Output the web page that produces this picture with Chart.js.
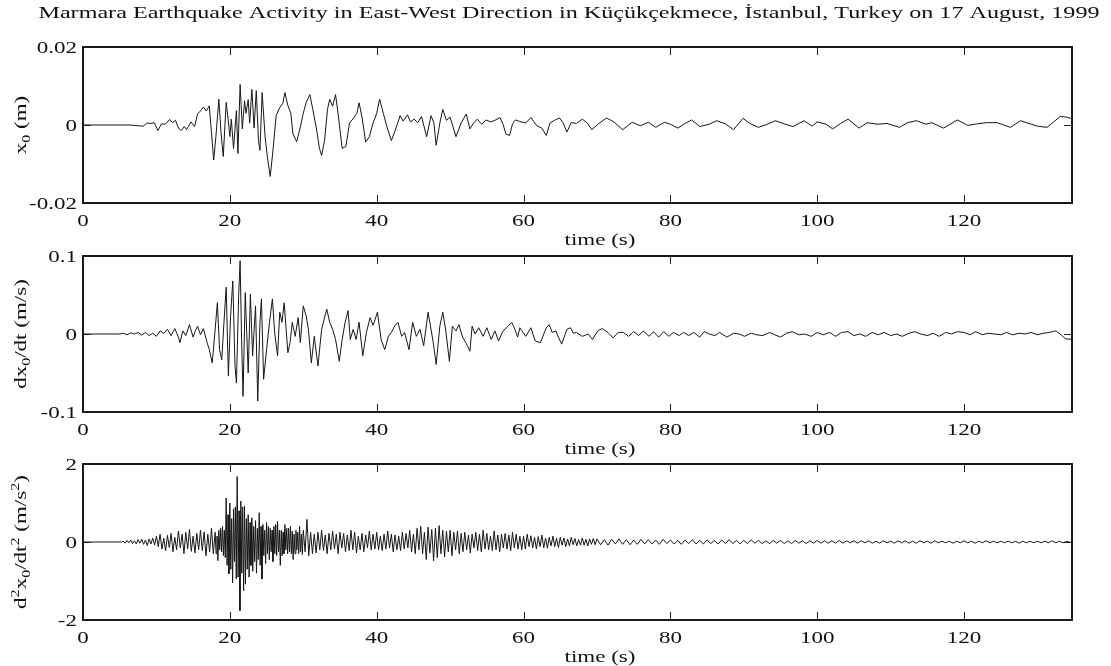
<!DOCTYPE html>
<html><head><meta charset="utf-8">
<script src="https://cdn.jsdelivr.net/npm/chart.js@4.4.1/dist/chart.umd.min.js"></script>
<style>
html,body{margin:0;padding:0;background:#fff;}
body{width:1111px;height:666px;position:relative;overflow:hidden;}
canvas{position:absolute;left:0;}
#fl{position:absolute;left:-999px;top:0;font-family:"Liberation Serif";font-size:20px;}
</style></head><body>
<div id="fl">time 0.02</div>
<canvas id="c1" width="1111" height="250" style="top:0;width:1111px;height:250px"></canvas>
<canvas id="c2" width="1111" height="208" style="top:250px;width:1111px;height:208px"></canvas>
<canvas id="c3" width="1111" height="208" style="top:458px;width:1111px;height:208px"></canvas>
<script>
const titleText = 'Marmara Earthquake Activity in East-West Direction in Küçükçekmece, İstanbul, Turkey on 17 August, 1999';
const xLabel = 'time (s)';
const xTicks = [0,20,40,60,80,100,120];
const xTickLabels = ['0','20','40','60','80','100','120'];
const dispTicks = [-0.02,0,0.02];
const dispTickLabels = ['-0.02','0','0.02'];
const velTicks = [-0.1,0,0.1];
const velTickLabels = ['-0.1','0','0.1'];
const accTicks = [-2,0,2];
const accTickLabels = ['-2','0','2'];

const dispTime = [0,6.5,7.5,8.2,8.7,9.2,9.7,10.2,10.7,11.2,
11.8,12.2,12.6,13.0,13.4,13.8,14.1,14.7,15.2,15.6,
16.0,16.4,16.8,17.2,17.5,17.8,18.1,18.5,18.8,19.1,
19.5,19.8,20.0,20.2,20.5,20.9,21.1,21.4,21.7,22.0,
22.2,22.5,22.7,23.0,23.3,23.6,23.9,24.1,24.4,24.8,
25.1,25.5,25.9,26.3,26.8,27.2,27.5,27.9,28.3,28.6,
29.1,29.6,30.0,30.4,30.9,31.3,31.8,32.2,32.5,32.9,
33.3,33.6,34.0,34.4,34.8,35.3,35.8,36.3,36.9,37.3,
37.6,38.0,38.5,39.0,39.5,40.0,40.4,40.9,41.4,42.0,
42.5,43.2,43.6,44.2,44.6,45.1,45.6,46.1,46.8,47.4,
47.8,48.1,48.6,49.0,49.5,50.0,50.8,51.5,52.2,52.7,
53.2,53.7,54.3,54.9,55.5,56.1,56.8,57.2,57.6,58.1,
58.5,58.9,59.5,60.3,61.0,61.8,62.5,63.1,63.6,64.2,
64.9,65.4,65.9,66.5,67.2,68.0,68.7,69.3,70.2,71.3,
72.3,73.5,74.8,75.9,77.0,78.0,79.2,80.0,81.0,82.0,
82.9,84.0,85.3,86.3,87.5,88.6,89.9,90.8,92.0,93.2,
94.3,95.5,96.7,98.2,99.3,100.0,101.2,102.1,103.2,104.2,
105.7,106.8,108.2,109.5,111.2,112.3,113.5,114.8,115.6,117.2,
119.1,120.5,121.8,123.1,124.5,126.3,127.7,129.0,130.0,131.3,
132.2,133.1,134.0,134.7];
const dispValue = [0,0,-0.0002,-0.0003,0.0005,0.0004,0.0006,-0.0014,0.0003,0.0002,
0.0014,0.0006,0.0012,-0.0008,-0.0014,-0.0004,-0.0012,0.0008,-0.0004,0.0028,
0.0036,0.0046,0.0036,0.0049,-0.002,-0.009,-0.003,0.0066,-0.002,-0.0081,
0.0058,0.001,-0.003,0.0015,-0.006,0.0037,-0.0073,0.0104,-0.001,0.0062,
0.003,0.0065,0.0005,0.0091,-0.0008,0.0088,-0.004,-0.0065,0.0083,-0.003,
-0.008,-0.0132,-0.006,0.0024,0.0045,0.0055,0.0083,0.005,0.003,-0.0023,
-0.0043,-0.0005,0.003,0.0058,0.0078,0.004,-0.001,-0.006,-0.0078,-0.004,
0.004,0.0066,0.0048,0.0078,0.002,-0.006,-0.0055,0.0005,0.0019,0.003,
0.0057,0.002,-0.0044,-0.003,0.0005,0.003,0.0066,0.003,-0.0005,-0.004,
-0.0015,0.0024,0.001,0.0026,0.0008,0.0015,0.0006,0.0022,-0.003,0.0024,
0.0005,-0.0052,0.0005,0.004,0.0012,0.002,-0.003,0.0005,0.0028,-0.001,
0.0005,0.0015,0.0002,0.0013,0.0008,0.0012,0.0019,0.0002,-0.0023,-0.0027,
0.0003,0.0013,0.0009,0.0005,0.0019,-0.0002,-0.0008,-0.0027,0.0005,0.0012,
0.0018,0.0005,-0.0018,0.0006,0.0004,0.0015,0.0005,-0.0012,0.0003,0.0018,
0.0008,-0.0012,0.0007,-0.0002,0.0007,-0.0006,0.0007,0.0002,-0.0008,0.0004,
0.0013,-0.0004,0.0002,0.0011,0.0003,-0.0012,0.0017,0.0004,-0.0006,0.0002,
0.0011,0.0003,-0.0004,0.0011,-0.0003,0.0008,0.0002,-0.001,0.0004,0.0015,
-0.0008,0.0006,0.0002,0.0004,-0.0006,0.0006,0.0011,0.0002,0.0006,-0.0008,
0.0013,-0.0001,0.0003,0.0006,0.0006,-0.0006,0.0011,0.0003,-0.0003,-0.0006,
0.0008,0.0022,0.002,0.0016];

const velTime = [0,5.0,5.5,6.0,6.5,7.0,7.5,8.0,8.5,9.0,
9.5,10.0,10.5,11.0,11.5,12.0,12.5,13.0,13.2,13.6,
14.0,14.5,15.0,15.3,15.6,16.0,16.4,16.9,17.2,17.6,
17.9,18.3,18.6,18.9,19.2,19.5,19.8,20.1,20.4,20.7,
20.9,21.2,21.4,21.6,21.8,22.1,22.5,22.8,23.1,23.5,
23.8,24.1,24.3,24.6,25.0,25.4,25.8,26.1,26.5,26.8,
27.1,27.4,27.9,28.2,28.5,28.9,29.3,29.6,30.0,30.4,
30.7,31.1,31.5,32.0,32.5,33.2,33.6,34.0,34.4,34.9,
35.3,35.7,36.1,36.4,36.8,37.2,37.6,38.1,38.6,39.1,
39.5,39.8,40.1,40.6,41.1,41.6,42.0,42.5,42.9,43.4,
43.8,44.4,44.9,45.4,45.9,46.4,47.0,47.4,47.7,48.1,
48.6,49.0,49.4,49.9,50.3,50.8,51.2,51.7,52.2,52.7,
53.0,53.4,53.9,54.5,55.0,55.6,56.1,56.6,57.2,57.9,
58.4,58.9,59.2,59.5,60.3,61.0,61.6,62.3,63.1,63.5,
63.9,64.4,64.8,65.2,65.9,66.4,66.8,67.2,68.0,68.8,
69.4,70.1,70.7,71.5,72.2,72.9,73.6,74.3,75.0,75.7,
76.3,77.1,77.7,78.4,79.1,79.8,80.4,81.2,81.8,82.5,
83.2,84.0,84.6,85.3,86.1,86.7,87.7,88.6,89.4,90.1,
91.0,91.7,92.6,93.5,94.2,95.0,95.8,96.6,97.5,98.3,
99.2,100.0,100.8,101.7,102.5,103.3,104.2,105.0,105.8,106.6,
107.5,108.3,109.1,110.0,110.8,111.6,112.5,113.3,114.1,115.0,
115.8,116.6,117.5,118.3,119.1,120.0,120.8,121.6,122.5,123.3,
124.1,125.0,125.8,126.6,127.5,128.3,129.1,130.0,130.8,131.6,
132.5,133.2,133.8,134.7];
const velValue = [0,0,0.001,-0.001,0.0015,0,0.002,-0.0015,0.002,-0.002,
0.001,-0.003,0.004,0.001,0.006,-0.002,0.007,-0.004,-0.011,0.004,
-0.002,0.012,-0.004,0.004,0.010,-0.001,0.007,-0.011,-0.02,-0.037,
-0.005,0.040,-0.02,-0.033,0.015,0.060,-0.054,0.023,0.068,-0.04,
-0.063,0.049,0.094,-0.007,-0.080,0.053,-0.050,0.051,-0.028,0.036,
-0.086,0.015,0.045,-0.058,-0.02,0.015,0.045,0.002,-0.028,0.028,
0.015,0.040,-0.024,-0.011,0.015,-0.003,0.021,-0.011,0.036,0.023,
0.006,-0.037,-0.003,-0.041,0.006,0.032,0.015,0.006,-0.007,-0.035,
-0.007,0.015,0.030,-0.007,0.006,-0.007,0.015,-0.028,0.002,0.021,
0.011,0.019,0.028,-0.007,-0.020,-0.003,0.002,0.011,0.015,-0.003,
0.002,-0.020,0.015,-0.003,0.006,-0.015,0.028,0.006,-0.011,-0.039,
0.010,0.028,0.005,-0.035,0.010,0.004,0.012,-0.004,-0.012,-0.022,
0.010,0,0.008,-0.003,0.008,-0.007,0.004,-0.009,0.004,0.010,
0.015,0.004,-0.004,0.008,-0.003,0.008,-0.009,-0.011,0.008,0.012,
0.002,0.004,-0.005,-0.013,0.006,0.008,0.001,0.002,-0.003,0,
-0.007,0.004,0.007,0.002,-0.005,0.002,0.002,-0.003,0.003,-0.002,
0.004,-0.003,0.003,-0.004,0.003,-0.003,0.002,-0.002,0.002,-0.002,
0.002,-0.004,0.003,0,-0.002,0.002,-0.004,0.001,0,-0.003,
0.001,-0.001,-0.002,0.002,-0.001,-0.004,0.001,0.003,-0.001,0,
-0.003,0.002,-0.001,0.002,-0.003,0.002,0.003,-0.002,0,-0.003,
0.002,-0.001,0.002,-0.002,0,-0.003,0.001,0.003,0,-0.002,
0.001,-0.003,0.002,0,0.003,0.002,-0.001,0.003,-0.001,0.001,
0,-0.001,0.002,-0.001,0.001,0,0.002,-0.001,0.001,0.002,
0.004,-0.001,-0.006,-0.007];

const accTime = [0,5.25,
5.5,5.75,6,6.25,6.5,6.75,7,7.25,7.5,7.75,
8,8.25,8.5,8.75,9,9.25,9.5,9.75,
10,10.25,10.5,10.75,11,11.25,11.5,11.75,
12,12.25,12.5,12.75,13,13.25,13.5,13.75,
14,14.25,14.5,14.75,15,15.25,15.5,15.75,
16,16.25,16.5,16.75,17,17.25,17.5,17.75,
18,18.125,18.25,18.375,18.5,18.625,18.75,18.875,
19,19.125,19.25,19.375,19.5,19.625,19.75,19.875,
20,20.125,20.25,20.375,20.5,20.625,20.75,20.875,
21,21.125,21.25,21.375,21.5,21.625,21.75,21.875,
22,22.125,22.25,22.375,22.5,22.625,22.75,22.875,
23,23.125,23.25,23.375,23.5,23.625,23.75,23.875,
24,24.125,24.25,24.375,24.5,24.625,24.75,24.875,
25,25.125,25.25,25.375,25.5,25.625,25.75,25.875,
26,26.125,26.25,26.375,26.5,26.625,26.75,26.875,
27,27.125,27.25,27.375,27.5,27.625,27.75,27.875,
28,28.125,28.25,28.375,28.5,28.625,28.75,28.875,
29,29.125,29.25,29.375,29.5,29.625,29.75,29.875,
30,30.25,30.5,30.75,31,31.25,31.5,31.75,
32,32.25,32.5,32.75,33,33.25,33.5,33.75,
34,34.25,34.5,34.75,35,35.25,35.5,35.75,
36,36.25,36.5,36.75,37,37.25,37.5,37.75,
38,38.25,38.5,38.75,39,39.25,39.5,39.75,
40,40.25,40.5,40.75,41,41.25,41.5,41.75,
42,42.25,42.5,42.75,43,43.25,43.5,43.75,
44,44.25,44.5,44.75,45,45.25,45.5,45.75,
46,46.25,46.5,46.75,47,47.25,47.5,47.75,
48,48.25,48.5,48.75,49,49.25,49.5,49.75,
50,50.25,50.5,50.75,51,51.25,51.5,51.75,
52,52.25,52.5,52.75,53,53.25,53.5,53.75,
54,54.25,54.5,54.75,55,55.25,55.5,55.75,
56,56.25,56.5,56.75,57,57.25,57.5,57.75,
58,58.25,58.5,58.75,59,59.25,59.5,59.75,
60,60.25,60.5,60.75,61,61.25,61.5,61.75,
62,62.25,62.5,62.75,63,63.25,63.5,63.75,
64,64.25,64.5,64.75,65,65.25,65.5,65.75,
66,66.25,66.5,66.75,67,67.25,67.5,67.75,
68,68.25,68.5,68.75,69,69.25,69.5,69.75,
70,70.5,71,71.5,72,72.5,73,73.5,
74,74.5,75,75.5,76,76.5,77,77.5,
78,78.5,79,79.5,80,80.5,81,81.5,
82,82.5,83,83.5,84,84.5,85,85.5,
86,86.5,87,87.5,88,88.5,89,89.5,
90,90.5,91,91.5,92,92.5,93,93.5,
94,94.5,95,95.5,96,96.5,97,97.5,
98,98.5,99,99.5,100,100.5,101,101.5,
102,102.5,103,103.5,104,104.5,105,105.5,
106,106.5,107,107.5,108,108.5,109,109.5,
110,110.5,111,111.5,112,112.5,113,113.5,
114,114.5,115,115.5,116,116.5,117,117.5,
118,118.5,119,119.5,120,120.5,121,121.5,
122,122.5,123,123.5,124,124.5,125,125.5,
126,126.5,127,127.5,128,128.5,129,129.5,
130,130.5,131,131.5,132,132.5,133,133.5,
134,134.5];
const accValue = [0,0,
0.02,-0.03,0.04,-0.02,0.05,-0.04,0.03,-0.05,0.06,-0.03,
0.07,-0.06,0.05,-0.09,0.08,-0.05,0.1,-0.08,
0.15,-0.12,0.2,-0.18,0.1,-0.22,0.17,-0.14,
0.22,-0.25,0.12,-0.2,0.28,-0.15,0.2,-0.3,
0.25,-0.18,0.32,-0.24,0.15,-0.28,0.22,-0.2,
0.3,-0.22,0.26,-0.35,0.2,-0.25,0.35,-0.3,
0.25,-0.3,0.15,-0.48,0.3,-0.2,0.35,-0.25,
0.4,-0.35,0.3,-0.4,1.13,-0.6,0.7,-0.82,
1.0,-0.7,0.6,-1.05,0.85,-0.5,0.9,-0.95,
1.68,-0.9,0.8,-1.76,1.05,-0.8,0.9,-1.25,
0.92,-1.08,0.6,-0.7,0.7,-0.9,0.5,-0.6,
0.62,-0.75,0.4,-0.5,0.55,-0.8,0.35,-0.45,
0.75,-0.6,0.4,-0.95,0.45,-0.35,0.3,-0.55,
0.5,-0.3,0.4,-0.45,0.35,-0.25,0.3,-0.5,
0.4,-0.3,0.45,-0.35,0.53,-0.25,0.3,-0.6,
0.3,-0.35,0.25,-0.3,0.45,-0.2,0.35,-0.3,
0.35,-0.25,0.4,-0.3,0.28,-0.45,0.2,-0.3,
0.3,-0.2,0.25,-0.3,0.4,-0.25,0.2,-0.32,
0.3,-0.25,0.58,-0.35,0.25,-0.3,0.2,-0.28,
0.25,-0.2,0.3,-0.22,0.18,-0.3,0.22,-0.2,
0.28,-0.18,0.2,-0.3,0.25,-0.15,0.22,-0.25,
0.18,-0.22,0.3,-0.2,0.25,-0.28,0.15,-0.2,
0.22,-0.25,0.18,-0.15,0.28,-0.2,0.2,-0.18,
0.25,-0.2,0.15,-0.22,0.2,-0.18,0.28,-0.15,
0.2,-0.25,0.18,-0.2,0.15,-0.22,0.25,-0.18,
0.22,-0.15,0.3,-0.25,0.2,-0.3,0.35,-0.2,
0.4,-0.3,0.25,-0.45,0.38,-0.28,0.32,-0.48,
0.35,-0.4,0.42,-0.3,0.3,-0.38,0.28,-0.25,
0.3,-0.35,0.25,-0.2,0.28,-0.3,0.22,-0.25,
0.25,-0.2,0.18,-0.28,0.2,-0.15,0.25,-0.22,
0.2,-0.25,0.3,-0.18,0.22,-0.2,0.15,-0.22,
0.28,-0.2,0.18,-0.25,0.2,-0.15,0.22,-0.18,
0.18,-0.22,0.25,-0.15,0.2,-0.18,0.15,-0.2,
0.15,-0.18,0.2,-0.12,0.16,-0.15,0.12,-0.18,
0.14,-0.12,0.18,-0.15,0.1,-0.16,0.12,-0.1,
0.15,-0.12,0.1,-0.14,0.12,-0.08,0.1,-0.12,
0.08,-0.1,0.12,-0.07,0.09,-0.1,0.06,-0.08,
0.1,-0.08,0.07,-0.1,0.08,-0.06,0.09,-0.07,
0.08,-0.07,0.06,-0.08,0.07,-0.05,0.08,-0.06,
0.06,-0.07,0.05,-0.06,0.07,-0.05,0.06,-0.05,
0.05,-0.06,0.07,-0.04,0.05,-0.05,0.04,-0.06,
0.05,-0.04,0.06,-0.05,0.04,-0.05,0.05,-0.04,
0.04,-0.05,0.05,-0.04,0.06,-0.04,0.04,-0.05,
0.04,-0.04,0.05,-0.03,0.04,-0.04,0.03,-0.04,
0.04,-0.03,0.04,-0.04,0.03,-0.04,0.04,-0.03,
0.03,-0.04,0.03,-0.03,0.04,-0.03,0.03,-0.03,
0.03,-0.03,0.04,-0.03,0.03,-0.02,0.03,-0.03,
0.03,-0.02,0.03,-0.03,0.02,-0.03,0.03,-0.02,
0.02,-0.03,0.03,-0.02,0.03,-0.03,0.02,-0.03,
0.03,-0.02,0.02,-0.03,0.03,-0.02,0.02,-0.02,
0.02,-0.03,0.02,-0.02,0.03,-0.02,0.02,-0.03,
0.02,-0.02,0.03,-0.02,0.02,-0.02,0.02,-0.02,
0.02,-0.02,0.02,-0.03,0.02,-0.02,0.02,-0.02,
0.02,-0.02,0.02,-0.02,0.03,-0.02,0.02,-0.02,
0.02,-0.01];

const dispYTitle = [{t:'x'},{t:'0',sub:true},{t:' (m)'}];
const velYTitle = [{t:'dx'},{t:'0',sub:true},{t:'/dt (m/s)'}];
const accYTitle = [{t:'d'},{t:'2',sup:true},{t:'x'},{t:'0',sub:true},{t:'/dt'},{t:'2',sup:true},{t:' (m/s'},{t:'2',sup:true},{t:')'}];

const X_MAX = 134.7;
const VS = 0.73;
const FONT = '"Liberation Serif","Times New Roman",serif';
const FS = 23;
const X_LABEL_X = 600;

function drawH(ctx, text, x, y, align, size) {
  ctx.save();
  ctx.translate(x, y);
  ctx.scale(1, VS);
  ctx.font = size + 'px ' + FONT;
  ctx.textAlign = align;
  ctx.textBaseline = 'alphabetic';
  ctx.fillText(text, 0, 0);
  ctx.restore();
}
function drawRich(ctx, segs, cx, cy, size) {
  ctx.save();
  ctx.translate(cx, cy);
  ctx.scale(VS, 1);
  ctx.rotate(-Math.PI / 2);
  ctx.textBaseline = 'alphabetic';
  ctx.textAlign = 'left';
  let total = 0;
  const ws = segs.map(s => {
    const fs = (s.sub || s.sup) ? size * 0.7 : size;
    ctx.font = fs + 'px ' + FONT;
    const w = ctx.measureText(s.t).width;
    total += w;
    return {w, fs};
  });
  let x = -total / 2;
  const base = size * 0.3;
  segs.forEach((s, i) => {
    ctx.font = ws[i].fs + 'px ' + FONT;
    let dy = base;
    if (s.sub) dy += size * 0.25;
    if (s.sup) dy -= size * 0.42;
    ctx.fillText(s.t, x, dy);
    x += ws[i].w;
  });
  ctx.restore();
}

const deco = {
  id: 'deco',
  afterDraw(chart, args, o) {
    const ctx = chart.ctx, ca = chart.chartArea, xs = chart.scales.x, ys = chart.scales.y;
    ctx.save();
    ctx.strokeStyle = '#222';
    ctx.lineWidth = 1;
    ctx.beginPath();
    xTicks.forEach(v => {
      const px = Math.round(xs.getPixelForValue(v)) + 0.5;
      ctx.moveTo(px, ca.bottom); ctx.lineTo(px, ca.bottom - 8);
      ctx.moveTo(px, ca.top); ctx.lineTo(px, ca.top + 8);
    });
    o.yTicks.forEach(v => {
      const py = Math.round(ys.getPixelForValue(v)) + 0.5;
      ctx.moveTo(ca.left, py); ctx.lineTo(ca.left + 8, py);
      ctx.moveTo(ca.right, py); ctx.lineTo(ca.right - 8, py);
    });
    ctx.stroke();
    ctx.lineWidth = 2;
    ctx.strokeStyle = '#1a1a1a';
    ctx.strokeRect(ca.left, ca.top, ca.right - ca.left, ca.bottom - ca.top);
    ctx.fillStyle = '#111';
    xTicks.forEach((v, i) => drawH(ctx, xTickLabels[i], xs.getPixelForValue(v), ca.bottom + 22.5, 'center', FS));
    const dh = 0.66 * FS * VS;
    o.yTicks.forEach((v, i) => drawH(ctx, o.yTickLabels[i], ca.left - 6, ys.getPixelForValue(v) + dh / 2, 'right', FS));
    drawH(ctx, xLabel, X_LABEL_X, ca.bottom + 42, 'center', FS);
    drawRich(ctx, o.yTitle, 21, (ca.top + ca.bottom) / 2, FS);
    if (o.title) {
      ctx.font = '25px ' + FONT;
      const w = ctx.measureText(titleText).width;
      const fs = 25 * 1062 / w;
      drawH(ctx, titleText, 569, 18, 'center', fs);
    }
    ctx.restore();
  }
};

function makeChart(id, times, values, yMin, yMax, ticks, tickLabels, yTitle, padTop, xH, title) {
  return new Chart(document.getElementById(id), {
    type: 'line',
    data: {
      datasets: [{
        data: times.map((t, i) => ({x: t, y: values[i]})),
        borderColor: '#161616',
        borderWidth: 1,
        pointRadius: 0,
        tension: 0,
        fill: false
      }]
    },
    options: {
      responsive: false,
      animation: false,
      events: [],
      layout: {padding: {top: padTop, right: 39, left: 0, bottom: 0}},
      plugins: {
        legend: {display: false},
        tooltip: {enabled: false},
        deco: {yTicks: ticks, yTickLabels: tickLabels, yTitle: yTitle, title: title}
      },
      scales: {
        x: {
          type: 'linear', min: 0, max: X_MAX,
          ticks: {display: false}, grid: {display: false}, border: {display: false},
          afterFit(s) { s.height = xH; }
        },
        y: {
          type: 'linear', min: yMin, max: yMax,
          ticks: {display: false}, grid: {display: false}, border: {display: false},
          afterFit(s) { s.width = 83; }
        }
      }
    },
    plugins: [deco]
  });
}

function init() {
  makeChart('c1', dispTime, dispValue, -0.02, 0.02, dispTicks, dispTickLabels, dispYTitle, 47, 47, true);
  makeChart('c2', velTime, velValue, -0.1, 0.1, velTicks, velTickLabels, velYTitle, 6, 46, false);
  makeChart('c3', accTime, accValue, -2, 2, accTicks, accTickLabels, accYTitle, 6, 46, false);
}
let started = false;
function start() { if (!started) { started = true; init(); } }
if (document.fonts && document.fonts.load) {
  Promise.all([document.fonts.load('23px "Liberation Serif"'), document.fonts.load('16px "Liberation Serif"')])
    .then(start, start);
  setTimeout(start, 1500);
} else {
  start();
}
</script>
</body></html>
